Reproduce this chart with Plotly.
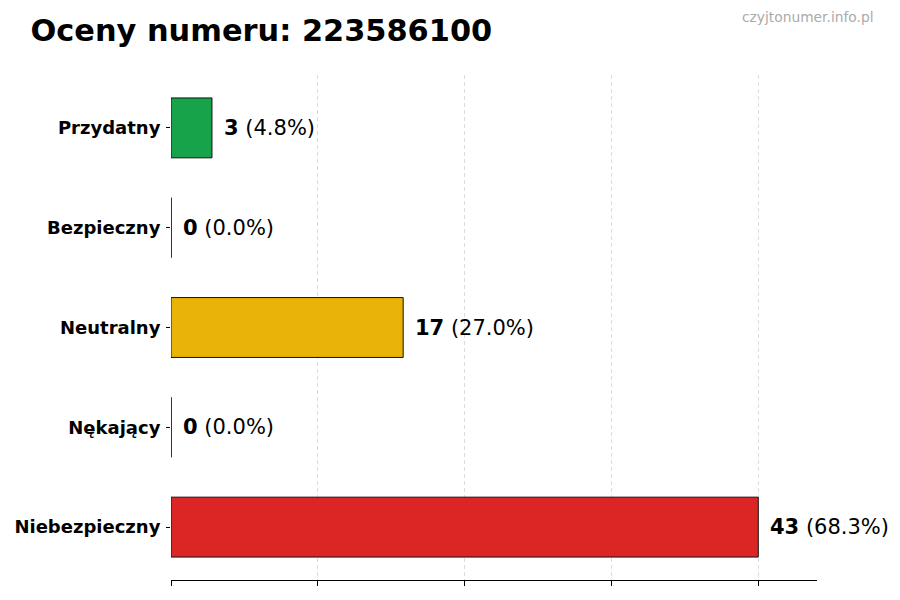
import plotly.graph_objects as go

categories = ["Niebezpieczny", "Nękający", "Neutralny", "Bezpieczny", "Przydatny"]
counts = [43, 0, 17, 0, 3]
colors = ["#dc2626", "#9ca3af", "#eab308", "#6b7280", "#16a34a"]
number = "223586100"

total = sum(counts)
ypos = list(range(len(categories)))
xmax = max(counts) * 1.1

fig = go.Figure()
fig.add_trace(go.Bar(
    x=counts, y=ypos, orientation="h", width=0.6,
    marker=dict(color=colors, line=dict(color="#111111", width=1)),
    hoverinfo="skip",
))

# zero bars still show their edge in the original, draw it as a thin line
zx, zy = [], []
for c, y in zip(counts, ypos):
    if c == 0:
        zx += [0, 0, None]
        zy += [y - 0.3, y + 0.3, None]
fig.add_trace(go.Scatter(x=zx, y=zy, mode="lines",
                         line=dict(color="#222222", width=1), hoverinfo="skip"))

for c, y in zip(counts, ypos):
    pct = c / total * 100
    fig.add_annotation(
        x=c, y=y, xanchor="left", yanchor="middle", xshift=10, showarrow=False,
        text=f"<b>{c}</b> ({pct:.1f}%)",
        font=dict(size=21, color="black", family="DejaVu Sans"),
    )

# page has an 8px body margin, so margins are shifted to compensate
fig.update_layout(
    width=900, height=600,
    margin=dict(l=163, r=91, t=67, b=28, autoexpand=False),
    plot_bgcolor="white", paper_bgcolor="white",
    showlegend=False,
    font=dict(family="DejaVu Sans", color="black"),
    title=dict(text=f"<b>Oceny numeru: {number}</b>", x=0.025, xanchor="left",
               y=0.963, yanchor="middle", font=dict(size=30.4, color="black")),
)
fig.add_annotation(
    text="czyjtonumer.info.pl", xref="paper", yref="paper",
    x=1.091, y=1.115, xanchor="right", yanchor="middle", showarrow=False,
    font=dict(size=13.8, color="#aaaaaa"),
)

fig.update_xaxes(
    range=[0, xmax], tickvals=[max(counts) * i / 4 for i in range(5)],
    showticklabels=False, ticks="outside", ticklen=5, tickcolor="black",
    showgrid=True, gridcolor="#dddddd", griddash="4px,3px", gridwidth=1,
    showline=True, linecolor="black", linewidth=1, zeroline=False,
    automargin=False,
)
fig.update_yaxes(
    range=[-0.53, 4.53], tickvals=ypos, ticktext=[f"<b>{c}</b>" for c in categories],
    ticks="outside", ticklen=4, tickcolor="black", showgrid=False,
    showline=False, zeroline=False, tickfont=dict(size=18, color="black"),
    ticklabelstandoff=2, automargin=False,
)

fig.write_html("out.html")
